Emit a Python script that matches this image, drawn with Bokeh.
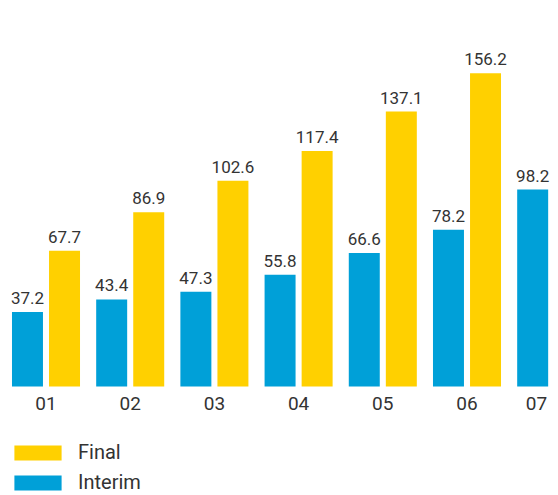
from bokeh.plotting import figure
from bokeh.models import ColumnDataSource, Legend, LegendItem, Range1d
from bokeh.core.properties import value
from bokeh.embed import file_html
from bokeh.resources import INLINE

categories = ["01", "02", "03", "04", "05", "06", "07"]
interim = [37.2, 43.4, 47.3, 55.8, 66.6, 78.2, 98.2]
final = [67.7, 86.9, 102.6, 117.4, 137.1, 156.2]
tick_pos = [0, 1, 2, 3, 4, 5, 5.825]

BLUE = "#00A0D8"
YELLOW = "#FFD000"
TEXT = "#333333"
FONT = "Roboto"

off = 0.22
bw = 0.368
xi = [i - off for i in range(len(interim))]
xf = [i + off for i in range(len(final))]

src_i = ColumnDataSource(dict(x=xi, top=interim, lab=[f"{v:.1f}" for v in interim]))
src_f = ColumnDataSource(dict(x=xf, top=final, lab=[f"{v:.1f}" for v in final]))
src_t = ColumnDataSource(dict(x=tick_pos, y=[0] * len(tick_pos), lab=categories))

p = figure(width=558, height=495, output_backend="svg", toolbar_location=None,
           x_range=Range1d(-0.5404, 6.0867), y_range=Range1d(-54.36, 192.52),
           x_axis_location=None, y_axis_location=None,
           min_border_left=0, min_border_right=0,
           min_border_top=0, min_border_bottom=0)
p.outline_line_color = None
p.xgrid.visible = False
p.ygrid.visible = False
p.background_fill_color = "white"
p.border_fill_color = "white"

rf = p.vbar(x="x", top="top", width=bw, bottom=0, source=src_f, color=YELLOW, line_color=None)
ri = p.vbar(x="x", top="top", width=bw, bottom=0, source=src_i, color=BLUE, line_color=None)

for src in (src_i, src_f):
    p.text(x="x", y="top", text="lab", source=src, text_align="center",
           text_baseline="alphabetic", y_offset=-14, text_font=value(FONT),
           text_font_size="17px", text_color=TEXT)

p.text(x="x", y="y", text="lab", source=src_t, text_align="center",
       text_baseline="top", y_offset=10, text_font=value(FONT),
       text_font_size="19px", text_color=TEXT)

legend = Legend(items=[LegendItem(label="Final", renderers=[rf]),
                       LegendItem(label="Interim", renderers=[ri])],
                location=(8, 1), orientation="vertical",
                glyph_width=59, glyph_height=19, label_height=22,
                spacing=6, label_standoff=11, padding=0, margin=0,
                border_line_color=None, background_fill_alpha=0,
                label_text_font=FONT, label_text_font_size="20px",
                label_text_color=TEXT)
p.add_layout(legend, "center")

open("out.html", "w").write(file_html(p, INLINE))
